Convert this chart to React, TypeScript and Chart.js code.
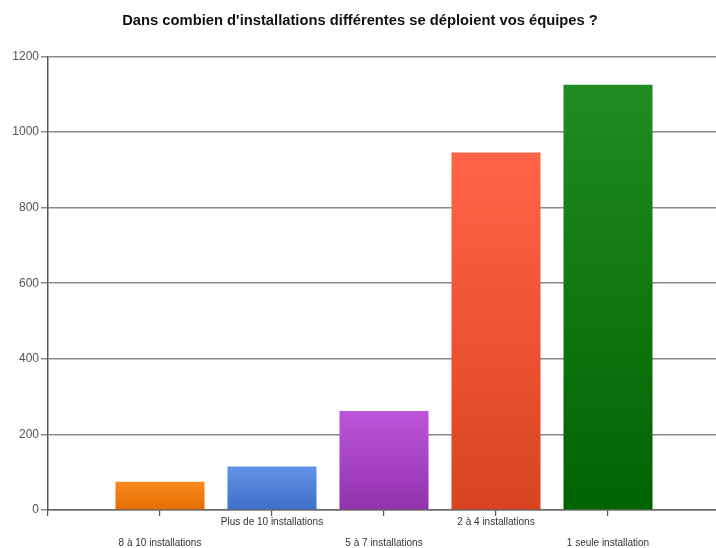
import React, { useEffect, useRef } from "react";
import { Chart, registerables } from "chart.js";

Chart.register(...registerables);

const titleText = "Dans combien d'installations différentes se déploient vos équipes ?";
const categories = [
  "8 à 10 installations",
  "Plus de 10 installations",
  "5 à 7 installations",
  "2 à 4 installations",
  "1 seule installation",
];
const values = [75, 115, 262, 946, 1125];
const topColors = ["#F88A1E", "#6494E6", "#BC55DA", "#FF6446", "#228B22"];
const bottomColors = ["#E66C00", "#3E6FCA", "#9232AE", "#D9431F", "#006400"];
const yMax = 1200;
const yStep = 200;

export default function App() {
  const ref = useRef<HTMLCanvasElement | null>(null);

  useEffect(() => {
    document.body.style.margin = "0";
    const canvas = ref.current;
    if (!canvas) return;
    const labels = ["", ...categories, ""];
    const data = [null, ...values, null];

    const chart = new Chart(canvas, {
      type: "bar",
      data: {
        labels,
        datasets: [
          {
            data,
            barPercentage: 1,
            categoryPercentage: 0.795,
            borderWidth: 0,
            backgroundColor: (ctx: any) => {
              const i = ctx.dataIndex - 1;
              if (i < 0 || i >= values.length) return "transparent";
              const c = ctx.chart;
              const ys = c.scales && c.scales.y;
              if (!ys || !c.chartArea) return topColors[i];
              const top = ys.getPixelForValue(values[i]);
              const bottom = ys.getPixelForValue(0);
              if (!isFinite(top) || !isFinite(bottom) || top === bottom) return topColors[i];
              const g = c.ctx.createLinearGradient(0, top, 0, bottom);
              g.addColorStop(0, topColors[i]);
              g.addColorStop(1, bottomColors[i]);
              return g;
            },
          },
        ],
      },
      options: {
        responsive: false,
        animation: false,
        layout: { padding: { left: 0, right: 0, top: 0, bottom: 0 } },
        plugins: {
          legend: { display: false },
          tooltip: { enabled: false },
          title: {
            display: true,
            text: titleText,
            color: "#111",
            font: { family: "'Liberation Sans', Arial, sans-serif", size: 14.75, weight: "bold", lineHeight: 1.2 },
            padding: { top: 12, bottom: 26.7 },
          },
        },
        scales: {
          x: {
            offset: false,
            grid: {
              offset: false,
              drawOnChartArea: false,
              drawTicks: true,
              tickLength: 6,
              color: "#555",
              lineWidth: 1.2,
            },
            border: { display: true, color: "#666", width: 1.5 },
            ticks: {
              autoSkip: false,
              maxRotation: 0,
              minRotation: 0,
              padding: -4.5,
              color: "#333",
              font: { family: "'Liberation Sans Narrow', 'Liberation Sans', Arial, sans-serif", size: 10, lineHeight: "21px" },
              callback: (_v: any, idx: number) => {
                const lab = labels[idx];
                if (!lab) return "";
                const ci = idx - 1;
                return ci % 2 === 0 ? ["", lab] : [lab];
              },
            },
            afterFit: (s: any) => {
              s.height = 38;
            },
          },
          y: {
            min: 0,
            max: yMax,
            ticks: {
              stepSize: yStep,
              color: "#555",
              padding: 2,
              font: { family: "'Liberation Sans', Arial, sans-serif", size: 12 },
              callback: (v: any) => String(v),
            },
            grid: {
              color: "#8a8a8a",
              lineWidth: 1.5,
              drawTicks: true,
              tickLength: 7,
            },
            border: { display: true, color: "#555", width: 1.5 },
            afterFit: (s: any) => {
              s.width = 48;
            },
          },
        },
      },
    });
    return () => chart.destroy();
  }, []);

  return (
    <div style={{ width: 716, height: 548, overflow: "hidden", background: "#fff" }}>
      <canvas ref={ref} width={720} height={548} style={{ display: "block" }} />
    </div>
  );
}
